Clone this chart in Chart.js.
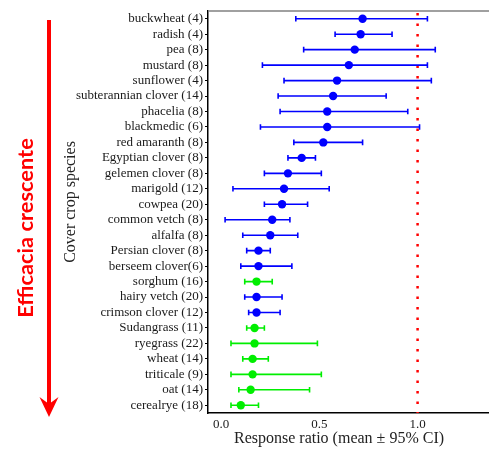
<!DOCTYPE html>
<html>
<head>
<meta charset="utf-8">
<script src="https://cdn.jsdelivr.net/npm/chart.js@4.4.0/dist/chart.umd.min.js"></script>
<style>
  html, body { margin: 0; padding: 0; background: #fff; overflow: hidden; }
  #wrap { width: 520px; height: 449px; }
</style>
</head>
<body>
<div id="wrap"><canvas id="chart" width="520" height="449"></canvas></div>
<script>
// cover crop species, top to bottom
var species = [
    "buckwheat (4)", "radish (4)", "pea (8)", "mustard (8)", "sunflower (4)",
    "subterannian clover (14)", "phacelia (8)", "blackmedic (6)", "red amaranth (8)",
    "Egyptian clover (8)", "gelemen clover (8)", "marigold (12)", "cowpea (20)",
    "common vetch (8)", "alfalfa (8)", "Persian clover (8)", "berseem clover(6)",
    "sorghum (16)", "hairy vetch (20)", "crimson clover (12)", "Sudangrass (11)",
    "ryegrass (22)", "wheat (14)", "triticale (9)", "oat (14)", "cerealrye (18)"
]
var meanRatio = [0.72, 0.71, 0.68, 0.65, 0.59, 0.57, 0.54, 0.54, 0.52, 0.41, 0.34, 0.32, 0.31,
    0.26, 0.25, 0.19, 0.19, 0.18, 0.18, 0.18, 0.17, 0.17, 0.16, 0.16, 0.15, 0.10]
var ciLow = [0.38, 0.58, 0.42, 0.21, 0.32, 0.29, 0.30, 0.20, 0.37, 0.34, 0.22, 0.06, 0.22,
    0.02, 0.11, 0.13, 0.10, 0.12, 0.12, 0.14, 0.13, 0.05, 0.11, 0.05, 0.09, 0.05]
var ciHigh = [1.05, 0.87, 1.09, 1.05, 1.07, 0.84, 0.95, 1.01, 0.72, 0.48, 0.51, 0.55, 0.44,
    0.35, 0.39, 0.25, 0.36, 0.26, 0.31, 0.30, 0.22, 0.49, 0.24, 0.51, 0.45, 0.19]
// "g" = grass (green), "o" = other (blue)
var group = ["o", "o", "o", "o", "o", "o", "o", "o", "o", "o", "o", "o", "o",
    "o", "o", "o", "o", "g", "o", "o", "g", "g", "g", "g", "g", "g"]
var xTicks = [0, 0.5, 1.0]
var refLine = 1.0

var BLUE = "#0000ff"
var GREEN = "#00ee00"
var colors = group.map(g => g == "g" ? GREEN : BLUE)

var errorBars = {
    id: "errorBars",
    beforeDatasetsDraw: function (chart) {
        var ctx = chart.ctx
        var xs = chart.scales.x
        var ys = chart.scales.y
        var area = chart.chartArea
        ctx.save()
        // top frame line
        ctx.strokeStyle = "#808080"
        ctx.lineWidth = 1.5
        ctx.beginPath()
        ctx.moveTo(area.left, area.top)
        ctx.lineTo(area.right, area.top)
        ctx.stroke()
        // dotted reference line
        var rx = xs.getPixelForValue(refLine)
        ctx.strokeStyle = "#ff0000"
        ctx.lineWidth = 2.5
        ctx.setLineDash([2.5, 8])
        ctx.beginPath()
        ctx.moveTo(rx, area.top + 2)
        ctx.lineTo(rx, area.bottom)
        ctx.stroke()
        ctx.setLineDash([])
        // whiskers
        ctx.lineWidth = 1.6
        for (let i = 0; i < species.length; i++) {
            let y = ys.getPixelForValue(i)
            let x0 = xs.getPixelForValue(ciLow[i])
            let x1 = xs.getPixelForValue(ciHigh[i])
            ctx.strokeStyle = colors[i]
            ctx.beginPath()
            ctx.moveTo(x0, y)
            ctx.lineTo(x1, y)
            ctx.moveTo(x0, y - 2.8)
            ctx.lineTo(x0, y + 2.8)
            ctx.moveTo(x1, y - 2.8)
            ctx.lineTo(x1, y + 2.8)
            ctx.stroke()
        }
        ctx.restore()
    },
    afterDraw: function (chart) {
        var ctx = chart.ctx
        ctx.save()
        // axis titles
        ctx.fillStyle = "#222"
        ctx.font = "16px 'Liberation Serif'"
        ctx.textAlign = "center"
        ctx.textBaseline = "middle"
        ctx.fillText("Response ratio (mean \u00b1 95% CI)", 339, 439)
        ctx.save()
        ctx.translate(71, 202)
        ctx.rotate(-Math.PI / 2)
        ctx.fillText("Cover crop species", 0, 0)
        ctx.restore()
        // red arrow + label
        ctx.strokeStyle = "#ff0000"
        ctx.fillStyle = "#ff0000"
        ctx.lineWidth = 4
        ctx.beginPath()
        ctx.moveTo(49, 20)
        ctx.lineTo(49, 408)
        ctx.stroke()
        ctx.beginPath()
        ctx.moveTo(49, 417)
        ctx.lineTo(39.5, 397)
        ctx.lineTo(49, 404)
        ctx.lineTo(58.5, 397)
        ctx.closePath()
        ctx.fill()
        ctx.save()
        ctx.translate(26, 228)
        ctx.rotate(-Math.PI / 2)
        ctx.font = "bold 21.8px Lato"
        ctx.textAlign = "center"
        ctx.textBaseline = "middle"
        ctx.fillText("Efficacia crescente", 0, 0)
        ctx.restore()
        ctx.restore()
    }
}

new Chart(document.getElementById("chart"), {
    type: "line",
    data: {
        labels: species,
        datasets: [{
            data: meanRatio,
            showLine: false,
            pointRadius: 4.2,
            pointHoverRadius: 4.2,
            pointBorderWidth: 0,
            pointBackgroundColor: colors,
            pointBorderColor: colors
        }]
    },
    options: {
        indexAxis: "y",
        responsive: false,
        animation: false,
        devicePixelRatio: 1,
        layout: { padding: { top: 11, left: 0, right: 0, bottom: 0 } },
        plugins: { legend: { display: false }, tooltip: { enabled: false } },
        scales: {
            y: {
                type: "category",
                offset: true,
                grid: { drawOnChartArea: false, drawTicks: true, tickLength: 3, color: "#000" },
                border: { display: true, color: "#000", width: 1.5 },
                ticks: {
                    padding: 2,
                    color: "#1a1a1a",
                    autoSkip: false,
                    font: { family: "Liberation Serif", size: 13 }
                },
                afterFit: function (scale) { scale.width = 208 }
            },
            x: {
                type: "linear",
                min: -0.067,
                max: 1.5,
                grid: { drawOnChartArea: false, drawTicks: false },
                border: { display: true, color: "#000", width: 1.5 },
                afterBuildTicks: function (scale) {
                    scale.ticks = xTicks.map(v => ({ value: v }))
                },
                ticks: {
                    padding: 4,
                    color: "#1a1a1a",
                    font: { family: "Liberation Serif", size: 13 },
                    callback: function (v) { return Number(v).toFixed(1) }
                },
                afterFit: function (scale) { scale.height = 36 }
            }
        }
    },
    plugins: [errorBars]
});
</script>
</body>
</html>
